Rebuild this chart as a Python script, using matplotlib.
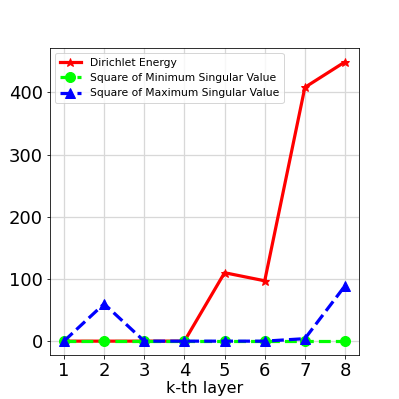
import numpy as np
import matplotlib
matplotlib.use('Agg')
import matplotlib.pyplot as plt

layers = [1, 2, 3, 4, 5, 6, 7, 8]
dirichlet = [0, 0, 0, 0, 110, 97, 408, 449]
min_sv = [0, 0, 0, 0, 0, 0, 0, 0]
max_sv = [0, 60, 0, 0, 0, 0, 4, 89]

# drawn at 72 dpi so points == pixels
fig = plt.figure(figsize=(399 / 72, 399 / 72), dpi=72)
ax = fig.add_subplot(111)

ax.plot(layers, dirichlet, 'r-', marker='*', markersize=9, linewidth=3.2, label='Dirichlet Energy')
ax.plot(layers, min_sv, color='lime', linestyle='--', marker='o', markersize=10, linewidth=3.2,
        label='Square of Minimum Singular Value')
ax.plot(layers, max_sv, 'b--', marker='^', markersize=10, linewidth=3.2,
        label='Square of Maximum Singular Value')

ax.set_xlabel('k-th layer', fontsize=16, labelpad=1)
ax.set_xticks(layers)
ax.tick_params(labelsize=18)
ax.grid(True, color='#d8d8d8', linewidth=1.3)
ax.legend(loc='upper left', fontsize=10.8)

plt.savefig('out.png', dpi=72)
